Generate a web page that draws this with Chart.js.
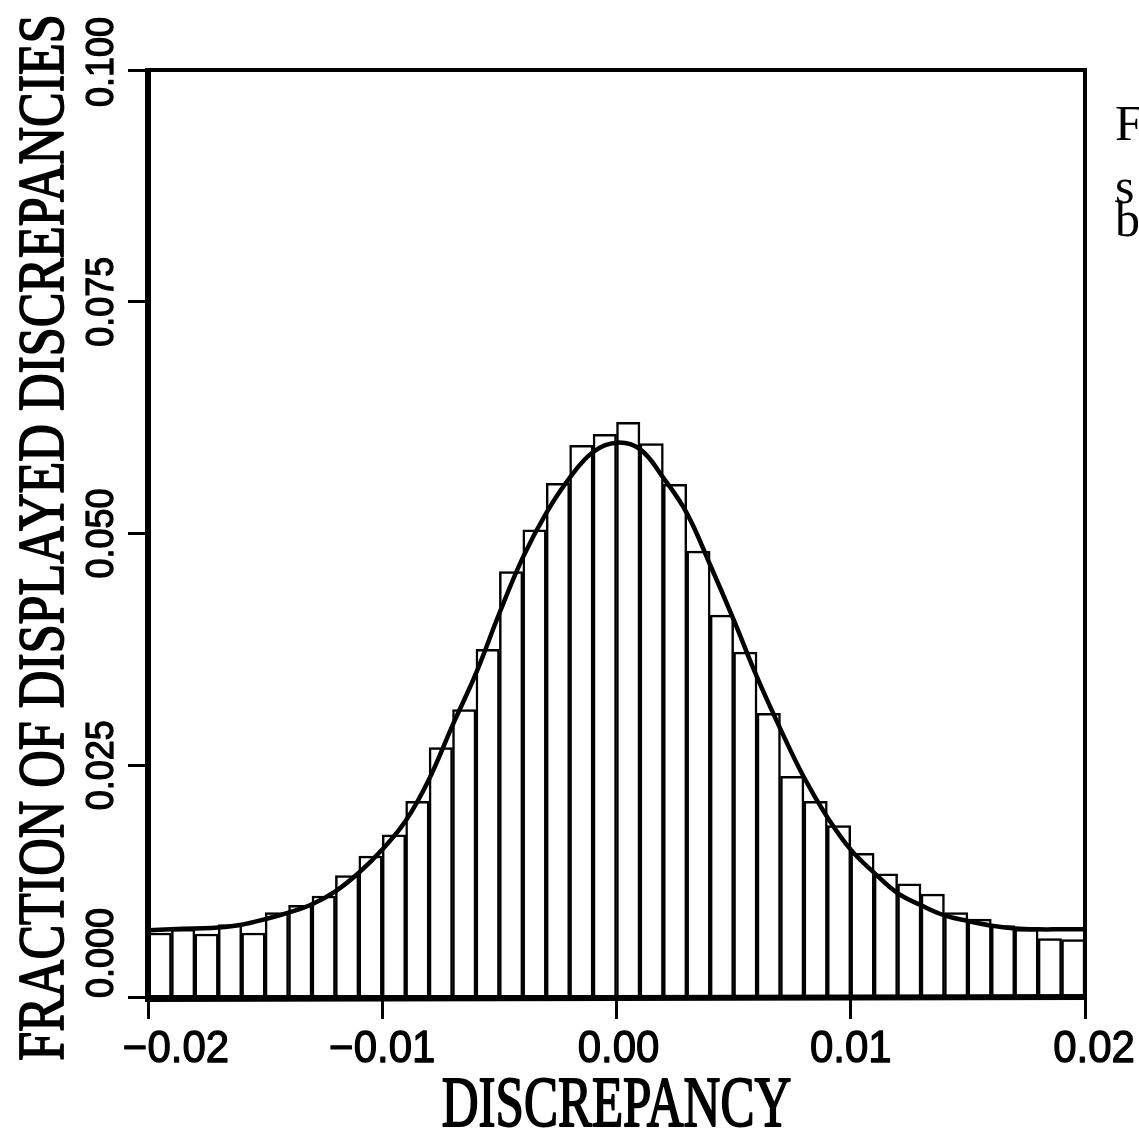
<!DOCTYPE html>
<html>
<head>
<meta charset="utf-8">
<script src="https://cdn.jsdelivr.net/npm/chart.js@4"></script>
<style>
  html, body { margin: 0; padding: 0; background: #fff; }
  #wrap { width: 1139px; height: 1132px; position: relative; }
</style>
</head>
<body>
<div id="wrap"><canvas id="hist"></canvas></div>
<script>
// histogram bins (centres, width 0.001)
const binCenters = [
  -0.0195, -0.0185, -0.0175, -0.0165, -0.0155, -0.0145, -0.0135, -0.0125, -0.0115, -0.0105,
  -0.0095, -0.0085, -0.0075, -0.0065, -0.0055, -0.0045, -0.0035, -0.0025, -0.0015, -0.0005,
   0.0005,  0.0015,  0.0025,  0.0035,  0.0045,  0.0055,  0.0065,  0.0075,  0.0085,  0.0095,
   0.0105,  0.0115,  0.0125,  0.0135,  0.0145,  0.0155,  0.0165,  0.0175,  0.0185,  0.0195
];
const fractions = [
  0.0069, 0.0073, 0.0068, 0.0078, 0.0069, 0.0091, 0.0099, 0.0109, 0.0131, 0.0152,
  0.0175, 0.0211, 0.0269, 0.0310, 0.0375, 0.0459, 0.0504, 0.0554, 0.0595, 0.0607,
  0.0620, 0.0597, 0.0553, 0.0481, 0.0412, 0.0372, 0.0306, 0.0238, 0.0211, 0.0185,
  0.0155, 0.0133, 0.0122, 0.0111, 0.0091, 0.0084, 0.0077, 0.0073, 0.0063, 0.0062
];

const fitX = [
  -0.020, -0.019, -0.018, -0.017, -0.016, -0.015, -0.014, -0.013, -0.012, -0.011,
  -0.010, -0.009, -0.008, -0.007, -0.006, -0.005, -0.004, -0.003, -0.002, -0.001,
   0.000,  0.001,  0.002,  0.003,  0.004,  0.005,  0.006,  0.007,  0.008,  0.009,
   0.010,  0.011,  0.012,  0.013,  0.014,  0.015,  0.016,  0.017,  0.018,  0.019, 0.020
];
const fitY = [
  0.0072, 0.0073, 0.0074, 0.0075, 0.0078, 0.0084, 0.0091, 0.0100, 0.0114, 0.0134,
  0.0159, 0.0190, 0.0235, 0.0293, 0.0349, 0.0414, 0.0474, 0.0522, 0.0560, 0.0588,
  0.0598, 0.0591, 0.0560, 0.0522, 0.0466, 0.0407, 0.0345, 0.0289, 0.0237, 0.0194,
  0.0159, 0.0134, 0.0112, 0.0099, 0.0088, 0.0082, 0.0077, 0.0074, 0.0073, 0.0073, 0.0073
];

const xTicks = [-0.02, -0.01, 0.00, 0.01, 0.02];
const xTickLabels = ['\u22120.02', '\u22120.01', '0.00', '0.01', '0.02'];
const yTicks = [0.000, 0.025, 0.050, 0.075, 0.100];
const yTickLabels = ['0.000', '0.025', '0.050', '0.075', '0.100'];

const xTitle = 'DISCREPANCY';
const yTitle = 'FRACTION OF DISPLAYED DISCREPANCIES';
const sideText = ['F', 's', 'b'];

// label nudges, as in the printed figure
const xLabelShift = [28, 0, 2, 0, 9];
const yLabelShift = [-44, 0, 0, 0, -8];

const SERIF = '"Liberation Serif", "Times New Roman", serif';
const SANS = '"Liberation Sans", Arial, sans-serif';

// draws text stretched across its height; a thin stroke thickens the glyphs like the print
function stretchedText(ctx, text, x, y, size, family, rot, sy, capRatio, weight) {
    ctx.save();
    ctx.translate(x, y);
    ctx.rotate(rot);
    ctx.scale(1, sy);
    ctx.font = size + 'px ' + family;
    ctx.textAlign = 'center';
    ctx.textBaseline = 'alphabetic';
    ctx.fillStyle = '#000';
    ctx.strokeStyle = '#000';
    ctx.lineWidth = weight;
    ctx.lineJoin = 'round';
    ctx.fillText(text, 0, size * capRatio / 2);
    if (weight > 0) ctx.strokeText(text, 0, size * capRatio / 2);
    ctx.restore();
}

const decor = {
    id: 'decor',
    afterDraw(chart) {
        const ctx = chart.ctx;
        const area = chart.chartArea;
        const xs = chart.scales.x;
        const ys = chart.scales.y;

        // frame
        ctx.save();
        ctx.strokeStyle = '#000';
        ctx.lineWidth = 4;
        ctx.strokeRect(area.left, area.top, area.right - area.left, area.bottom - area.top);
        ctx.lineWidth = 6;
        ctx.beginPath();
        ctx.moveTo(area.left, area.top - 2);
        ctx.lineTo(area.left, area.bottom + 2);
        ctx.lineTo(area.right + 2, area.bottom);
        ctx.stroke();
        ctx.restore();

        // tick labels
        xTicks.forEach((v, i) => {
            const px = xs.getPixelForValue(v) + xLabelShift[i];
            stretchedText(ctx, xTickLabels[i], px, 1046, 42, SANS, 0, 1.05, 0.716, 1.2);
        });
        yTicks.forEach((v, i) => {
            const py = ys.getPixelForValue(v) + yLabelShift[i];
            stretchedText(ctx, yTickLabels[i], 99, py, 36, SANS, -Math.PI / 2, 1.1, 0.716, 1.2);
        });

        // axis titles
        stretchedText(ctx, xTitle, (area.left + area.right) / 2, 1102, 51, SERIF, 0, 1.4, 0.66, 1.4);
        stretchedText(ctx, yTitle, 41, (area.top + area.bottom) / 2 + 4, 52, SERIF, -Math.PI / 2, 1.28, 0.66, 1.4);

        // clipped caption text at the right edge
        ctx.save();
        ctx.fillStyle = '#000';
        ctx.font = '50px ' + SERIF;
        ctx.textBaseline = 'alphabetic';
        ctx.fillText(sideText[0], 1115, 140);
        ctx.fillText(sideText[1], 1115, 203);
        ctx.fillText(sideText[2], 1115, 236);
        ctx.restore();
    }
};

new Chart(document.getElementById('hist').getContext('2d'), {
    type: 'bar',
    data: {
        datasets: [
            {
                type: 'line',
                data: fitX.map((x, i) => ({ x: x, y: fitY[i] })),
                borderColor: '#000',
                borderWidth: 4.5,
                pointRadius: 0,
                tension: 0.4,
                fill: false,
                order: 0
            },
            {
                type: 'bar',
                data: binCenters.map((x, i) => ({ x: x, y: fractions[i] })),
                backgroundColor: '#fff',
                borderColor: '#000',
                borderWidth: 2.5,
                barPercentage: 1,
                categoryPercentage: 1,
                order: 1
            }
        ]
    },
    options: {
        responsive: true,
        maintainAspectRatio: false,
        animation: false,
        devicePixelRatio: 1,
        layout: { padding: { top: 70, right: 54, left: 0, bottom: 0 } },
        plugins: { legend: { display: false }, tooltip: { enabled: false } },
        scales: {
            x: {
                type: 'linear',
                min: -0.02,
                max: 0.02,
                offset: false,
                afterBuildTicks: (s) => { s.ticks = xTicks.map(v => ({ value: v })); },
                afterFit: (s) => { s.height = 135; },
                ticks: { display: false },
                grid: { offset: false, drawOnChartArea: false, drawTicks: true, tickLength: 22, tickWidth: 3, color: '#000' },
                border: { display: false }
            },
            y: {
                min: 0,
                max: 0.1,
                afterBuildTicks: (s) => { s.ticks = yTicks.map(v => ({ value: v })); },
                afterFit: (s) => { s.width = 148; },
                ticks: { display: false },
                grid: { drawOnChartArea: false, drawTicks: true, tickLength: 20, tickWidth: 3, color: '#000' },
                border: { display: false }
            }
        }
    },
    plugins: [decor]
});
</script>
</body>
</html>
